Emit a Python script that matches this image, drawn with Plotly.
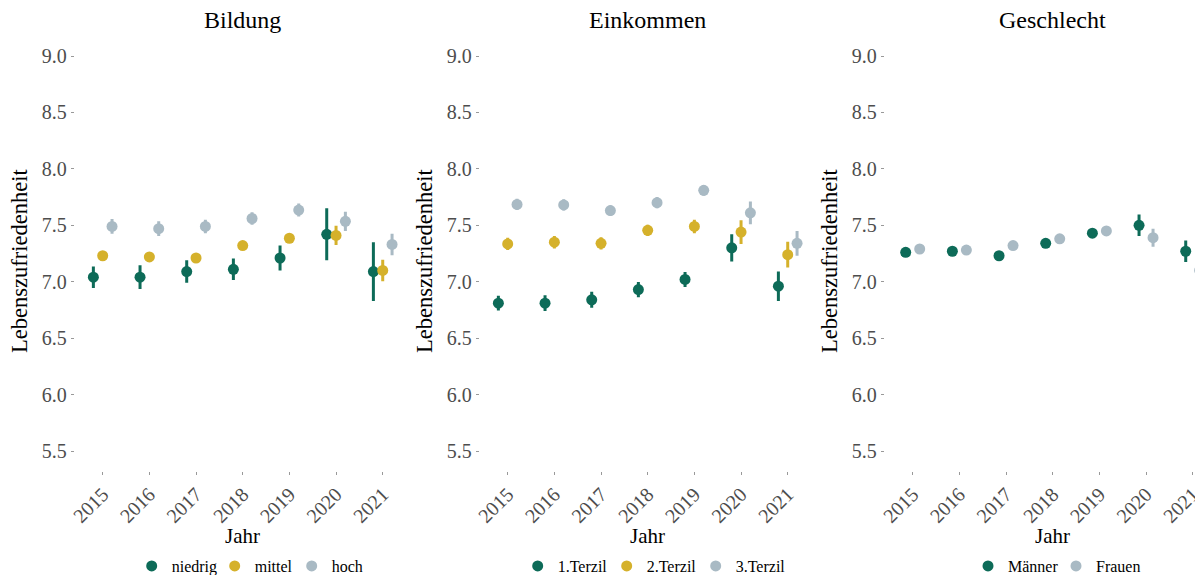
import plotly.graph_objects as go

years = ["2015", "2016", "2017", "2018", "2019", "2020", "2021"]
y_ticks = [5.5, 6.0, 6.5, 7.0, 7.5, 8.0, 8.5, 9.0]

panel_titles = ["Bildung", "Einkommen", "Geschlecht"]

# Bildung
bildung_groups = ["niedrig", "mittel", "hoch"]
bildung_niedrig = [7.04, 7.04, 7.09, 7.11, 7.21, 7.42, 7.09]
bildung_niedrig_err = [0.095, 0.105, 0.10, 0.095, 0.11, 0.23, 0.26]
bildung_mittel = [7.23, 7.22, 7.21, 7.32, 7.385, 7.41, 7.10]
bildung_mittel_err = [0.025, 0.025, 0.025, 0.03, 0.03, 0.085, 0.095]
bildung_hoch = [7.49, 7.47, 7.49, 7.56, 7.635, 7.535, 7.33]
bildung_hoch_err = [0.065, 0.065, 0.06, 0.055, 0.057, 0.085, 0.095]

# Einkommen
einkommen_groups = ["1.Terzil", "2.Terzil", "3.Terzil"]
einkommen_t1 = [6.81, 6.81, 6.84, 6.93, 7.02, 7.30, 6.96]
einkommen_t1_err = [0.065, 0.07, 0.07, 0.067, 0.067, 0.12, 0.13]
einkommen_t2 = [7.335, 7.35, 7.34, 7.455, 7.49, 7.44, 7.24]
einkommen_t2_err = [0.055, 0.055, 0.055, 0.05, 0.06, 0.105, 0.115]
einkommen_t3 = [7.685, 7.68, 7.63, 7.70, 7.81, 7.61, 7.34]
einkommen_t3_err = [0.05, 0.05, 0.045, 0.05, 0.048, 0.10, 0.11]

# Geschlecht
geschlecht_groups = ["Männer", "Frauen"]
geschlecht_m = [7.26, 7.27, 7.23, 7.34, 7.43, 7.50, 7.27]
geschlecht_m_err = [0.03, 0.035, 0.03, 0.03, 0.035, 0.095, 0.095]
geschlecht_f = [7.29, 7.28, 7.32, 7.38, 7.45, 7.39, 7.10]
geschlecht_f_err = [0.025, 0.03, 0.025, 0.025, 0.03, 0.08, 0.09]

colors3 = ["#0d6b58", "#d5b12b", "#a9bac4"]
colors2 = ["#0d6b58", "#a9bac4"]

FONT = "Liberation Serif"
PAGE_OFF = 8  # default body margin of the html page
W, H = 1203 - PAGE_OFF, 575 - PAGE_OFF

panels = [
    (bildung_groups, [bildung_niedrig, bildung_mittel, bildung_hoch],
     [bildung_niedrig_err, bildung_mittel_err, bildung_hoch_err], colors3),
    (einkommen_groups, [einkommen_t1, einkommen_t2, einkommen_t3],
     [einkommen_t1_err, einkommen_t2_err, einkommen_t3_err], colors3),
    (geschlecht_groups, [geschlecht_m, geschlecht_f],
     [geschlecht_m_err, geschlecht_f_err], colors2),
]
# legend entry widths (px) so the legend spacing follows the reference
legend_widths = [[38, 32, 36], [44, 44, 50], [43, 46]]
legend_first_symbol_px = [151.7, 537.7, 988.0]

fig = go.Figure()
dodge = 0.6
for p, (groups, means, errs, cols) in enumerate(panels):
    n = len(groups)
    xa = "x" if p == 0 else f"x{p+1}"
    ya = "y" if p == 0 else f"y{p+1}"
    lg = "legend" if p == 0 else f"legend{p+1}"
    for g, name in enumerate(groups):
        off = (g - (n - 1) / 2) * dodge / n
        xs = [i + 1 + off for i in range(len(years))]
        fig.add_trace(go.Scatter(
            x=xs, y=means[g], mode="markers", name=name,
            marker=dict(color=cols[g], size=11, line=dict(width=0)),
            error_y=dict(type="data", array=errs[g], visible=True,
                         color=cols[g], thickness=3, width=0),
            xaxis=xa, yaxis=ya, legend=lg, cliponaxis=False,
            legendwidth=legend_widths[p][g],
        ))


def px_x(v):
    return (v - PAGE_OFF) / W


def px_y(v):
    return 1 - (v - PAGE_OFF) / H


# pixel layout (page coordinates)
unit = 46.67
left_px = [74.7, 479.7, 884.7]
top_px, bot_px = 36.25, 470.75
ydom = [px_y(bot_px), px_y(top_px)]

layout = dict(
    width=W, height=H, margin=dict(l=0, r=0, t=0, b=0, autoexpand=False),
    paper_bgcolor="white", plot_bgcolor="white",
    font=dict(family=FONT, color="black"),
    showlegend=True,
)
annotations = []
for p in range(3):
    suf = "" if p == 0 else str(p + 1)
    l = left_px[p]
    r = min(l + 7.2 * unit, 1203)
    xr = [0.4, 0.4 + (r - l) / unit]
    layout[f"xaxis{suf}"] = dict(
        domain=[px_x(l), px_x(r)], range=xr, anchor=f"y{suf}",
        tickvals=list(range(1, len(years) + 1)), ticktext=years,
        tickangle=-45, ticks="outside", ticklen=3, tickcolor="#999999",
        tickfont=dict(family=FONT, size=20, color="#4d4d4d"),
        showgrid=False, zeroline=False, showline=False,
    )
    layout[f"yaxis{suf}"] = dict(
        domain=ydom, range=[5.325, 9.175], anchor=f"x{suf}",
        tickvals=y_ticks, tickformat=".1f",
        ticks="outside", ticklen=3, tickcolor="#999999",
        tickfont=dict(family=FONT, size=20, color="#4d4d4d"),
        showgrid=False, zeroline=False, showline=False,
    )
    xref = "x" if p == 0 else f"x{p+1}"
    annotations.append(dict(text=panel_titles[p], xref=xref, yref="paper",
                            x=4, y=px_y(20), xanchor="center", yanchor="middle",
                            showarrow=False, font=dict(family=FONT, size=24, color="black")))
    annotations.append(dict(text="Jahr", xref=xref, yref="paper",
                            x=4, y=px_y(536), xanchor="center", yanchor="middle",
                            showarrow=False, font=dict(family=FONT, size=21, color="black")))
    annotations.append(dict(text="Lebenszufriedenheit", xref="paper", yref="paper",
                            x=px_x(20 + 405 * p), y=px_y(261), textangle=-90,
                            xanchor="center", yanchor="middle",
                            showarrow=False, font=dict(family=FONT, size=22.5, color="black")))
    layout["legend" if p == 0 else f"legend{p+1}"] = dict(
        orientation="h", x=px_x(legend_first_symbol_px[p] - 20), y=px_y(566),
        xanchor="left", yanchor="middle", bgcolor="rgba(0,0,0,0)",
        font=dict(family=FONT, size=16, color="black"),
        itemwidth=30, tracegroupgap=0,
    )
layout["annotations"] = annotations
fig.update_layout(**layout)
fig.write_html("out.html")
